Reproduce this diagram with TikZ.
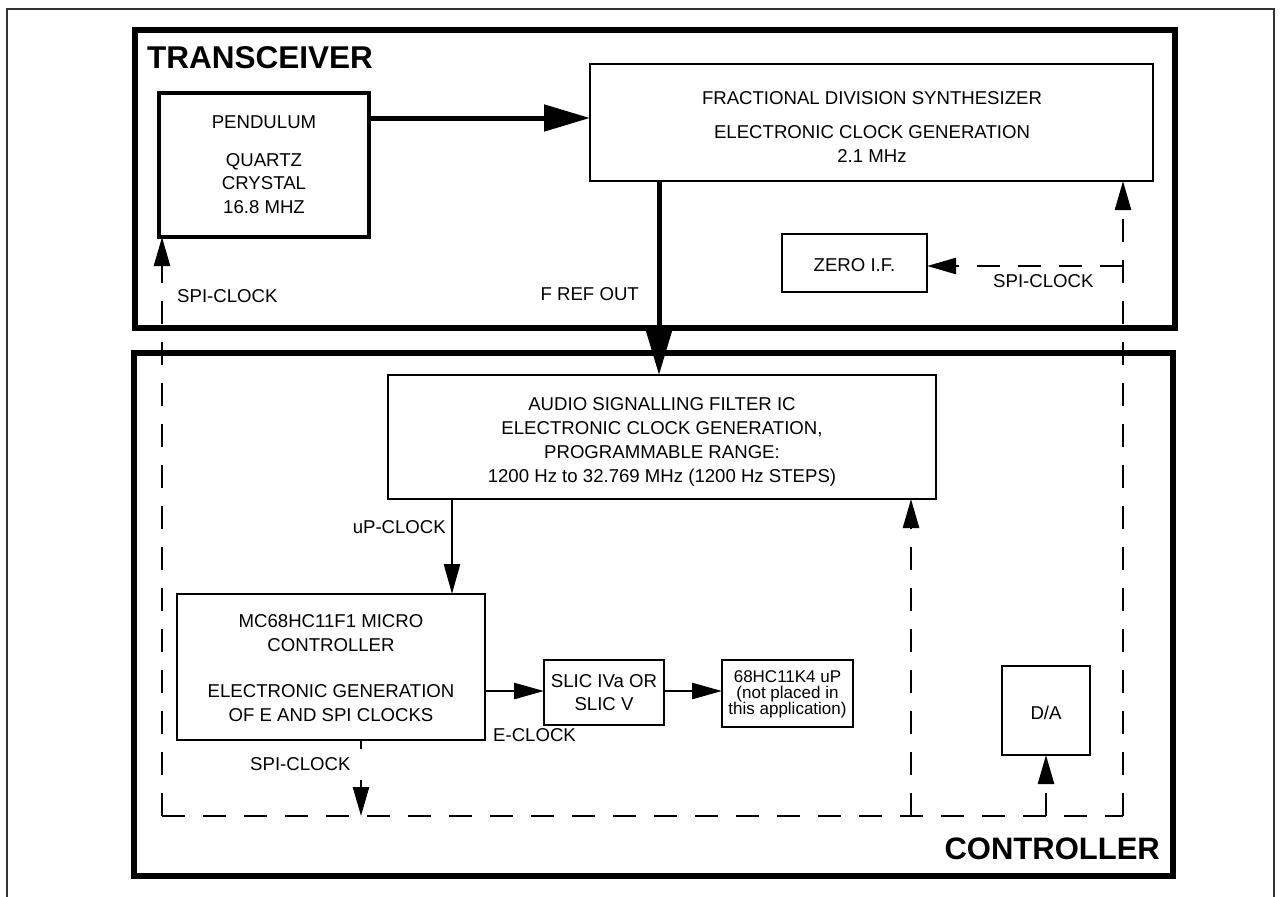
\documentclass[tikz,border=0pt]{standalone}
\usepackage{fontspec}
\setmainfont{Liberation Sans}
\usetikzlibrary{arrows.meta}
\begin{document}
\begin{tikzpicture}[x=1pt,y=-1pt,
  txt/.style={inner sep=0pt, anchor=base, font=\fontsize{18.6}{20}\selectfont},
  txtw/.style={txt, anchor=base west},
  txte/.style={txt, anchor=base east},
  small/.style={txt, font=\fontsize{17}{18}\selectfont},
  title/.style={inner sep=0pt, font=\bfseries\fontsize{31.5}{33}\selectfont},
  boxbase/.style={draw, inner sep=0pt, outer sep=0pt, rectangle},
  heavybox/.style={boxbase, line width=5.5pt},
  midbox/.style={boxbase, line width=4.5pt},
  thinbox/.style={boxbase, line width=2.5pt},
  finebox/.style={boxbase, line width=1.6pt},
  bigarrow/.style={line width=5pt, -{Triangle[length=46pt,width=26pt]}},
  smallarrow/.style={line width=2.6pt, -{Triangle[length=30pt,width=16pt]}},
  dsh/.style={line width=2.5pt, dash pattern=on 23pt off 18pt},
  dsharrow/.style={dsh, -{Triangle[length=29pt,width=16pt]}}
]
\useasboundingbox (0,0) rectangle (1280,897);
\fill[white] (0,0) rectangle (1280,897);
% outer frame (open at the bottom)
\draw[line width=2pt, black!80] (7,897) -- (7,9) -- (1274,9) -- (1274,897);

% main groups
\node[heavybox, minimum width=1040pt, minimum height=298pt] (trans) at (655,179) {};
\node[heavybox, minimum width=1039pt, minimum height=523pt] (ctrl) at (653.5,614.5) {};
\node[title, anchor=base west] (transt) at (147,68) {TRANSCEIVER};
\node[title, anchor=base east, font=\bfseries\fontsize{31}{33}\selectfont] (ctrlt) at (1160,859) {CONTROLLER};

% blocks
\node[midbox, minimum width=210pt, minimum height=144pt] (pend) at (264,165) {};
\node[thinbox, minimum width=563pt, minimum height=117pt] (fds) at (871.5,122.5) {};
\node[thinbox, minimum width=145pt, minimum height=58pt] (zero) at (854.5,263) {};
\node[thinbox, minimum width=548pt, minimum height=124pt] (audio) at (662,437) {};
\node[finebox, minimum width=308pt, minimum height=146pt] (mc) at (331,667) {};
\node[finebox, minimum width=120pt, minimum height=65pt] (slic) at (604,692.5) {};
\node[finebox, minimum width=131pt, minimum height=67pt] (hc) at (787.5,693.5) {};
\node[finebox, minimum width=88pt, minimum height=89pt] (da) at (1046,710.5) {};

% block texts
\node[txt] (p1) at (264,128) {PENDULUM};
\node[txt] (p2) at (264,166) {QUARTZ};
\node[txt] (p3) at (264,189) {CRYSTAL};
\node[txt] (p4) at (264,213) {16.8 MHZ};
\node[txt] (f1) at (872,104) {FRACTIONAL DIVISION SYNTHESIZER};
\node[txt] (f2) at (872,138) {ELECTRONIC CLOCK GENERATION};
\node[txt] (f3) at (872,162) {2.1 MHz};
\node[txt] (z1) at (854.5,271) {ZERO I.F.};
\node[txt] (a1) at (662,410) {AUDIO SIGNALLING FILTER IC};
\node[txt] (a2) at (662,434) {ELECTRONIC CLOCK GENERATION,};
\node[txt] (a3) at (662,458) {PROGRAMMABLE RANGE:};
\node[txt] (a4) at (662,482) {1200 Hz to 32.769 MHz (1200 Hz STEPS)};
\node[txt] (m1) at (331,627) {MC68HC11F1 MICRO};
\node[txt] (m2) at (331,651) {CONTROLLER};
\node[txt] (m3) at (331,697) {ELECTRONIC GENERATION};
\node[txt] (m4) at (331,721) {OF E AND SPI CLOCKS};
\node[txt] (s1) at (604,687) {SLIC IVa OR};
\node[txt] (s2) at (604,710) {SLIC V};
\node[small] (h1) at (787.5,682) {68HC11K4 uP};
\node[small] (h2) at (787.5,698) {(not placed in};
\node[small] (h3) at (787.5,714) {this application)};
\node[txt] (d1) at (1046,719) {D/A};

% connector labels
\node[txtw] (lspi1) at (177,302) {SPI-CLOCK};
\node[txte] (lfref) at (639,300) {F REF OUT};
\node[txtw] (lspi2) at (993,287) {SPI-CLOCK};
\node[txte] (lup) at (446,533) {uP-CLOCK};
\node[txtw] (lspi3) at (250,770) {SPI-CLOCK};
\node[txtw] (lec) at (493,741) {E-CLOCK};

% solid connectors
\coordinate (ya) at (0,118);
\draw[bigarrow] (pend.east |- ya) -- (fds.west |- ya);
\coordinate (xf) at (659,0);
\draw[bigarrow] (xf |- fds.south) -- (xf |- audio.north);
\coordinate (xu) at (452,0);
\draw[smallarrow] (xu |- audio.south) -- (xu |- mc.north);
\coordinate (ye) at (0,691);
\draw[smallarrow] (mc.east |- ye) -- (slic.west |- ye);
\draw[smallarrow] (slic.east |- ye) -- (hc.west |- ye);

% dashed SPI clock network
\coordinate (bl) at (162,816);
\coordinate (br) at (1123,816);
\coordinate (zj) at (1123,266);
\coordinate (aj) at (911,816);
\coordinate (sj) at (361,816);
\draw[dsh] (bl) -- (br);
\draw[dsharrow] (bl) -- (bl |- pend.south);
\draw[dsharrow] (br) -- (br |- fds.south);
\draw[dsharrow] (zj) -- (zero.east |- zj);
\draw[dsharrow] (aj) -- (aj |- audio.south);
\draw[dsharrow] (da.south |- br) -- (da.south);
\draw[dsharrow, dash pattern=on 9pt off 31pt on 40pt] (sj |- mc.south) -- (sj);
\end{tikzpicture}
\end{document}
